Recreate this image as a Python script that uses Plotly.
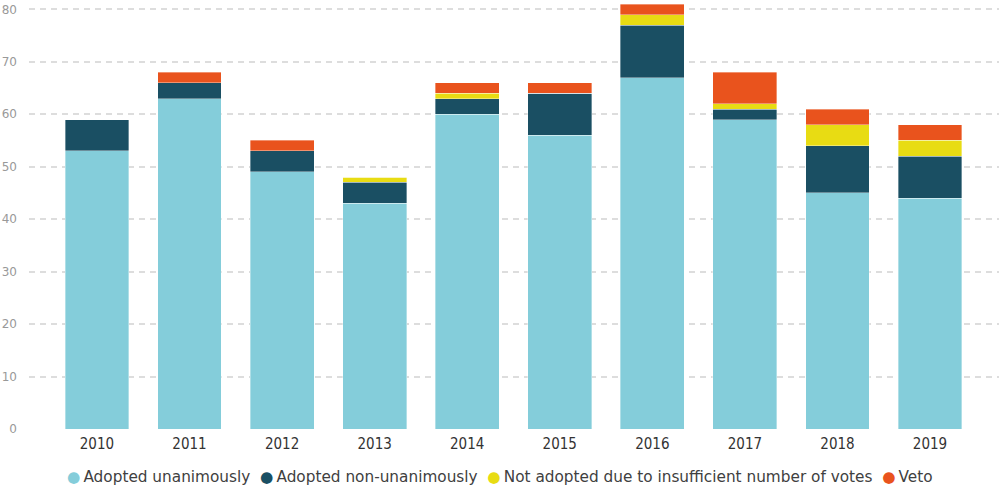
import plotly.graph_objects as go

years = ["2010", "2011", "2012", "2013", "2014", "2015", "2016", "2017", "2018", "2019"]
adopted_unanimously = [53, 63, 49, 43, 60, 56, 67, 59, 45, 44]
adopted_non_unanimously = [6, 3, 4, 4, 3, 8, 10, 2, 9, 8]
not_adopted = [0, 0, 0, 1, 1, 0, 2, 1, 4, 3]
veto = [0, 2, 2, 0, 2, 2, 2, 6, 3, 3]
y_ticks = [0, 10, 20, 30, 40, 50, 60, 70, 80]

series = [
    ("Adopted unanimously", adopted_unanimously, "#84CDDA"),
    ("Adopted non-unanimously", adopted_non_unanimously, "#1A4F63"),
    ("Not adopted due to insufficient number of votes", not_adopted, "#E8DC13"),
    ("Veto", veto, "#E9531D"),
]

fig = go.Figure()
for name, vals, color in series:
    fig.add_trace(go.Bar(
        x=years, y=vals, name=name, marker_color=color,
        marker_line=dict(color="rgba(255,255,255,0.6)", width=0.6),
        showlegend=False,
    ))

# custom legend (dot immediately followed by label, as in the reference)
legend_text = "&nbsp; ".join(
    f'<span style="color:{c}">●</span>\u2009{n}' for n, _, c in series
)
fig.add_annotation(
    text=legend_text, xref="paper", yref="paper",
    x=(499.5 - 29) / 970, y=-(477 - 429) / 427, xanchor="center", yanchor="middle",
    showarrow=False, font=dict(family="DejaVu Sans", size=15.3, color="#404040"),
)

fig.update_layout(
    barmode="stack",
    bargap=0.31,
    width=999, height=488,
    margin=dict(l=29, r=0, t=2, b=59),
    plot_bgcolor="white", paper_bgcolor="white",
    font=dict(family="DejaVu Sans Condensed", size=13, color="#333333"),
    showlegend=False,
    xaxis=dict(type="category", range=[-0.734, 9.745], showgrid=False, automargin=False,
               showline=False, ticks="", ticklabelstandoff=4,
               tickfont=dict(family="DejaVu Sans Condensed", size=15, color="#333333")),
    yaxis=dict(range=[0, 81.4], tickvals=y_ticks, automargin=False,
               showgrid=True, gridcolor="#DDDDDD", griddash="6px,5px", gridwidth=1.5,
               zeroline=False, showline=False, ticks="",
               tickfont=dict(family="DejaVu Sans", size=12, color="#999999"),
               ticklabelstandoff=11),
)

fig.write_html(
    "out.html",
    config={"displayModeBar": False},
    post_script="document.body.style.margin='0';document.body.style.padding='0';",
)
